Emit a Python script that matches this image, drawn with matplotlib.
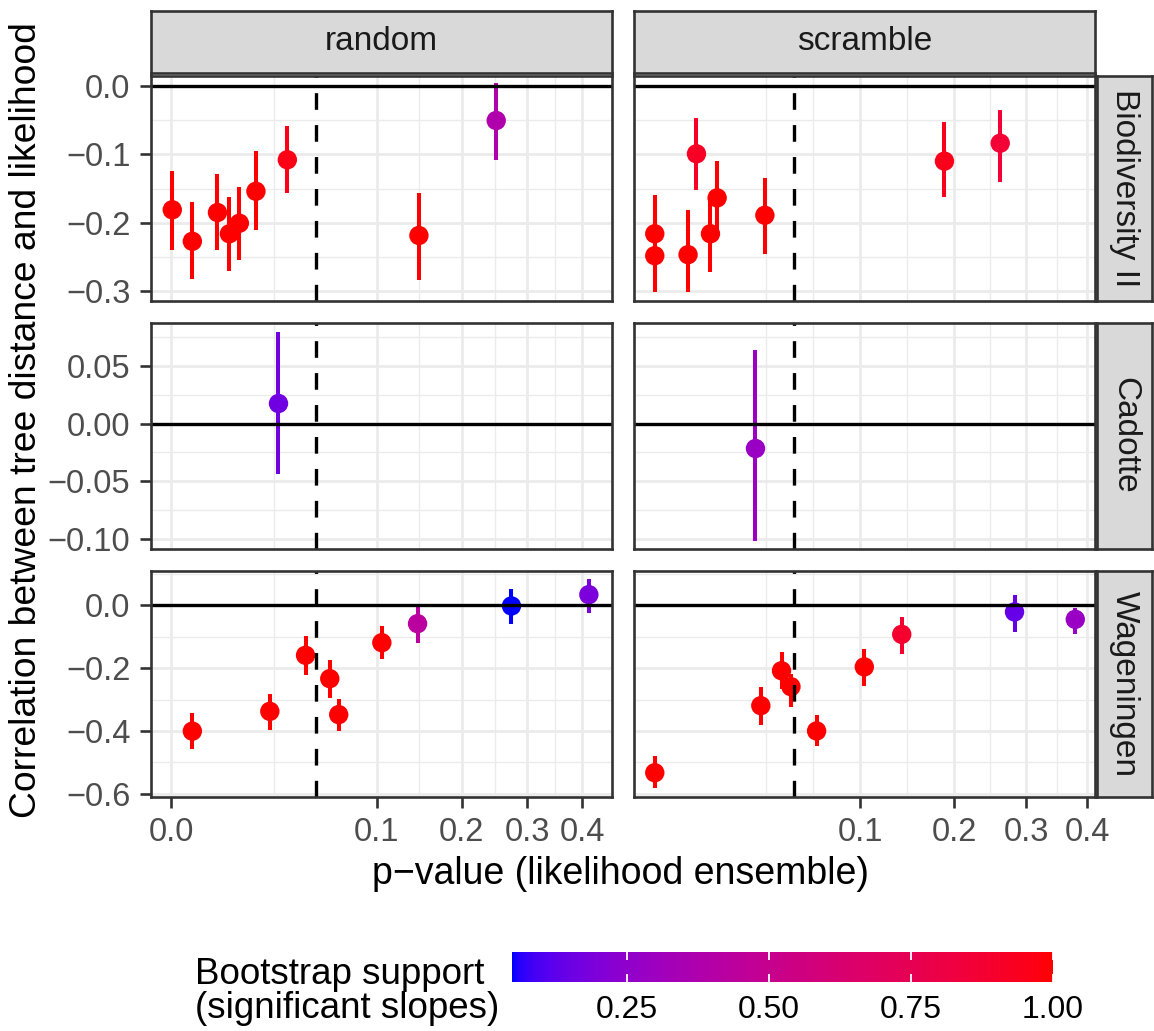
import numpy as np
import matplotlib
matplotlib.use("Agg")
import matplotlib.pyplot as plt
from matplotlib.colors import ListedColormap, Normalize
from matplotlib.cm import ScalarMappable

plt.rcParams['font.family'] = ['Liberation Sans', 'DejaVu Sans']
plt.rcParams['lines.scale_dashes'] = False

# ---------------- data ----------------
methods = ["random", "scramble"]
datasets = ["Biodiversity II", "Cadotte", "Wageningen"]

bio_random_p = [0.000004, 0.00108, 0.00511, 0.00807, 0.01105, 0.01706, 0.032, 0.1453, 0.25]
bio_random_r = [-0.181, -0.227, -0.185, -0.216, -0.2006, -0.154, -0.108, -0.2185, -0.0507]
bio_random_lo = [-0.239, -0.282, -0.240, -0.271, -0.2536, -0.211, -0.156, -0.283, -0.109]
bio_random_hi = [-0.1245, -0.170, -0.1285, -0.1626, -0.148, -0.0945, -0.0594, -0.156, 0.004]
bio_random_s = [1.0, 1.0, 1.0, 1.0, 1.0, 1.0, 0.96, 1.0, 0.38]

bio_scramble_p = [0.00092, 0.00092, 0.00588, 0.00782, 0.01164, 0.01373, 0.03374, 0.1882, 0.2616]
bio_scramble_r = [-0.216, -0.248, -0.2465, -0.0993, -0.216, -0.1636, -0.189, -0.110, -0.0838]
bio_scramble_lo = [-0.272, -0.301, -0.301, -0.1514, -0.272, -0.221, -0.245, -0.1626, -0.1407]
bio_scramble_hi = [-0.159, -0.192, -0.181, -0.047, -0.163, -0.110, -0.135, -0.053, -0.036]
bio_scramble_s = [1.0, 1.0, 1.0, 0.92, 1.0, 1.0, 1.0, 0.95, 0.86]

cad_random_p = [0.0272]
cad_random_r = [0.0182]
cad_random_lo = [-0.044]
cad_random_hi = [0.0798]
cad_random_s = [0.16]

cad_scramble_p = [0.0287]
cad_scramble_r = [-0.0212]
cad_scramble_lo = [-0.102]
cad_scramble_hi = [0.0636]
cad_scramble_s = [0.28]

wag_random_p = [0.00108, 0.0231, 0.0428, 0.0596, 0.0665, 0.1051, 0.1437, 0.274, 0.4127]
wag_random_r = [-0.4006, -0.3376, -0.159, -0.2335, -0.348, -0.119, -0.0584, -0.002, 0.034]
wag_random_lo = [-0.456, -0.396, -0.221, -0.295, -0.400, -0.172, -0.119, -0.058, -0.0245]
wag_random_hi = [-0.343, -0.281, -0.0987, -0.173, -0.297, -0.066, -0.0053, 0.053, 0.085]
wag_random_s = [1.0, 1.0, 1.0, 1.0, 1.0, 1.0, 0.43, 0.0475, 0.19]

wag_scramble_p = [0.00092, 0.0317, 0.0428, 0.0484, 0.0654, 0.1038, 0.1401, 0.2824, 0.3795]
wag_scramble_r = [-0.533, -0.3195, -0.2083, -0.259, -0.40, -0.196, -0.0924, -0.021, -0.0446]
wag_scramble_lo = [-0.583, -0.381, -0.265, -0.3238, -0.449, -0.258, -0.156, -0.085, -0.0924]
wag_scramble_hi = [-0.48, -0.26, -0.148, -0.2175, -0.35, -0.14, -0.037, 0.034, -0.0086]
wag_scramble_s = [1.0, 1.0, 1.0, 1.0, 1.0, 1.0, 0.89, 0.14, 0.28]

p_threshold = 0.05
x_breaks = [0.0, 0.1, 0.2, 0.3, 0.4]
x_labels = ["0.0", "0.1", "0.2", "0.3", "0.4"]
y_breaks = [[0.0, -0.1, -0.2, -0.3], [0.05, 0.0, -0.05, -0.10], [0.0, -0.2, -0.4, -0.6]]
y_labels = [["0.0", "\u22120.1", "\u22120.2", "\u22120.3"],
            ["0.05", "0.00", "\u22120.05", "\u22120.10"],
            ["0.0", "\u22120.2", "\u22120.4", "\u22120.6"]]
cbar_breaks = [0.25, 0.50, 0.75, 1.00]
cbar_labels = ["0.25", "0.50", "0.75", "1.00"]
support_range = (0.0475, 1.0)

panels = {
    ("Biodiversity II", "random"): (bio_random_p, bio_random_r, bio_random_lo, bio_random_hi, bio_random_s),
    ("Biodiversity II", "scramble"): (bio_scramble_p, bio_scramble_r, bio_scramble_lo, bio_scramble_hi, bio_scramble_s),
    ("Cadotte", "random"): (cad_random_p, cad_random_r, cad_random_lo, cad_random_hi, cad_random_s),
    ("Cadotte", "scramble"): (cad_scramble_p, cad_scramble_r, cad_scramble_lo, cad_scramble_hi, cad_scramble_s),
    ("Wageningen", "random"): (wag_random_p, wag_random_r, wag_random_lo, wag_random_hi, wag_random_s),
    ("Wageningen", "scramble"): (wag_scramble_p, wag_scramble_r, wag_scramble_lo, wag_scramble_hi, wag_scramble_s),
}

# ---------------- colour map (Lab interpolation blue -> red, like ggplot) ----------------
_M = np.array([[0.4124564, 0.3575761, 0.1804375],
               [0.2126729, 0.7151522, 0.0721750],
               [0.0193339, 0.1191920, 0.9503041]])
_WHITE = np.array([0.95047, 1.0, 1.08883])


def rgb2lab(rgb):
    rgb = np.asarray(rgb, float)
    c = np.where(rgb <= 0.04045, rgb / 12.92, ((rgb + 0.055) / 1.055) ** 2.4)
    xyz = _M @ c / _WHITE
    d = 6 / 29
    f = np.where(xyz > d ** 3, np.cbrt(xyz), xyz / (3 * d * d) + 4 / 29)
    return np.array([116 * f[1] - 16, 500 * (f[0] - f[1]), 200 * (f[1] - f[2])])


def lab2rgb(lab):
    L, a, b = lab
    fy = (L + 16) / 116
    fx = fy + a / 500
    fz = fy - b / 200
    d = 6 / 29
    f = np.array([fx, fy, fz])
    xyz = np.where(f > d, f ** 3, 3 * d * d * (f - 4 / 29)) * _WHITE
    c = np.linalg.solve(_M, xyz)
    c = np.clip(c, 0, 1)
    rgb = np.where(c <= 0.0031308, 12.92 * c, 1.055 * c ** (1 / 2.4) - 0.055)
    return np.clip(rgb, 0, 1)


lab_lo = rgb2lab([0, 0, 1])
lab_hi = rgb2lab([1, 0, 0])
cmap = ListedColormap([lab2rgb(lab_lo + t * (lab_hi - lab_lo)) for t in np.linspace(0, 1, 256)])
norm = Normalize(*support_range)

# ---------------- layout ----------------
W, H = 1154, 1031
fig = plt.figure(figsize=(W / 100, H / 100), dpi=100)


def rect(x0, x1, y0, y1):
    return [x0 / W, 1 - y1 / H, (x1 - x0) / W, (y1 - y0) / H]


cols = [(151, 612), (634, 1095)]
rows = [(75.5, 300.5), (323, 548.5), (571, 796.5)]
xlims_sqrt = [(-0.0307, 0.678), (0.0014, 0.6435)]
ylims = [(-0.3134, 0.015), (-0.1086, 0.0874), (-0.6087, 0.1093)]

GRID = "#EBEBEB"
DARK = "#333333"
TICKTXT = "#4D4D4D"


def fwd(x):
    x = np.asarray(x, float)
    return np.sign(x) * np.sqrt(np.abs(x))


def inv(x):
    x = np.asarray(x, float)
    return np.sign(x) * x ** 2


def minor_breaks(b, lo, hi):
    b = sorted(v for v in b if lo <= v <= hi)
    bd = b[1] - b[0]
    if lo < b[0]:
        b = [b[0] - bd] + b
    if hi > b[-1]:
        b = b + [b[-1] + bd]
    out = list(b) + [(b[i] + b[i + 1]) / 2 for i in range(len(b) - 1)]
    return [v for v in out if lo <= v <= hi]


for i, ds in enumerate(datasets):
    for j, m in enumerate(methods):
        ax = fig.add_axes(rect(cols[j][0], cols[j][1], rows[i][0], rows[i][1]))
        ax.set_xscale('function', functions=(fwd, inv))
        xl = xlims_sqrt[j]
        ax.set_xlim(inv(xl[0]), inv(xl[1]))
        ax.set_ylim(*ylims[i])

        # grid
        xb_t = [float(fwd(v)) for v in x_breaks]
        xb_in = [v for v in xb_t if xl[0] <= v <= xl[1]]
        for v in minor_breaks(xb_t, *xl):
            ax.axvline(float(inv(v)), color=GRID, lw=1.0, zorder=0.5)
        for v in xb_in:
            ax.axvline(float(inv(v)), color=GRID, lw=1.9, zorder=0.6)
        yb = sorted(y_breaks[i])
        for v in minor_breaks(yb, *ylims[i]):
            ax.axhline(v, color=GRID, lw=1.0, zorder=0.5)
        for v in yb:
            ax.axhline(v, color=GRID, lw=1.9, zorder=0.6)

        # data
        p, r, lo, hi, s = panels[(ds, m)]
        cols_rgba = cmap(norm(np.array(s)))
        ax.vlines(p, lo, hi, colors=cols_rgba, lw=2.9, zorder=2, capstyle='butt')
        ax.scatter(p, r, c=s, cmap=cmap, norm=norm, s=195, linewidths=0, zorder=2.5)

        # reference lines
        ax.axhline(0, color="black", lw=2.4, zorder=3)
        ax.axvline(p_threshold, color="black", lw=2.4, zorder=3, linestyle=(0, (12.0, 11.0)))

        # axes styling
        for sp in ax.spines.values():
            sp.set_color(DARK)
            sp.set_linewidth(1.9)
            sp.set_zorder(4)
        ax.set_xticks([v for v, t in zip(x_breaks, xb_t) if xl[0] <= t <= xl[1]])
        ax.set_xticklabels([lab for lab, t in zip(x_labels, xb_t) if xl[0] <= t <= xl[1]])
        ax.xaxis.set_minor_locator(matplotlib.ticker.NullLocator())
        ax.set_yticks(y_breaks[i])
        ax.set_yticklabels(y_labels[i])
        ax.tick_params(axis='both', which='major', length=7.8, width=1.9, color=DARK,
                       labelcolor=TICKTXT, labelsize=23.5, pad=7)
        if i < 2:
            ax.tick_params(axis='x', bottom=False, labelbottom=False)
        if j > 0:
            ax.tick_params(axis='y', left=False, labelleft=False)

        # strips
        if i == 0:
            sax = fig.add_axes(rect(cols[j][0], cols[j][1], 11, 73))
            sax.set_facecolor("#D9D9D9")
            sax.set_xticks([]); sax.set_yticks([])
            for sp in sax.spines.values():
                sp.set_color(DARK); sp.set_linewidth(1.9)
            sax.text(0.5, 0.5, m, ha='center', va='center', fontsize=24, color="#1A1A1A",
                     transform=sax.transAxes)
        if j == 1:
            sax = fig.add_axes(rect(1097, 1152, rows[i][0], rows[i][1]))
            sax.set_facecolor("#D9D9D9")
            sax.set_xticks([]); sax.set_yticks([])
            for sp in sax.spines.values():
                sp.set_color(DARK); sp.set_linewidth(1.9)
            sax.text(0.5, 0.5, ds, ha='center', va='center', fontsize=24, color="#1A1A1A",
                     rotation=-90, transform=sax.transAxes)

# axis titles
fig.text(620 / W, 1 - 874 / H, "p\u2212value (likelihood ensemble)", ha='center', va='center',
         fontsize=27, color='black')
fig.text(27 / W, 1 - 420 / H, "Correlation between tree distance and likelihood", ha='center',
         va='center', rotation=90, fontsize=26.8, color='black')

# legend
fig.text(195 / W, 1 - 984 / H, "Bootstrap support", ha='left', va='baseline', fontsize=26.5)
fig.text(195 / W, 1 - 1018 / H, "(significant slopes)", ha='left', va='baseline', fontsize=26.5)
cax = fig.add_axes(rect(512, 1053, 952, 982))
cb = fig.colorbar(ScalarMappable(norm=norm, cmap=cmap), cax=cax, orientation='horizontal')
cb.outline.set_visible(False)
cb.set_ticks(cbar_breaks)
cb.set_ticklabels(cbar_labels)
cax.tick_params(axis='x', direction='in', top=True, bottom=True, color='white', length=6,
                width=1.3, labelcolor='black', labelsize=23, pad=9)

fig.savefig("out.png", dpi=100)
